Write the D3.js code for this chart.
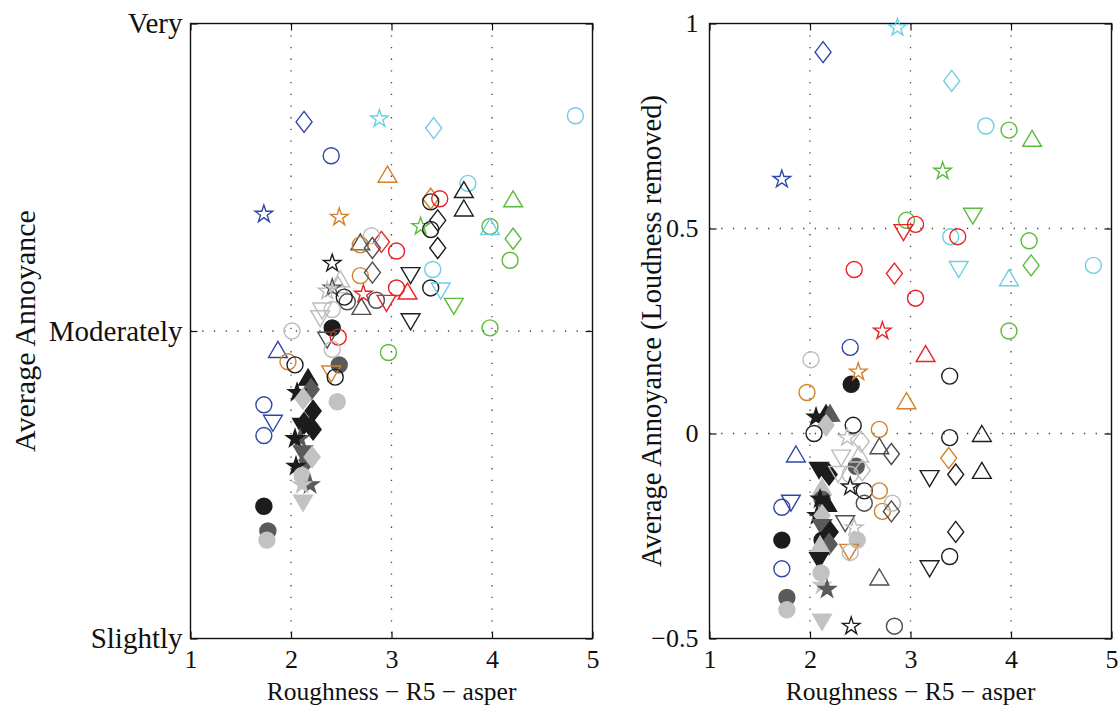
<!DOCTYPE html>
<html><head><meta charset="utf-8">
<script src="https://cdn.jsdelivr.net/npm/d3@7"></script>
<style>
html,body{margin:0;padding:0;background:#fff;}
svg{display:block;}
text{font-family:"Liberation Serif","Times New Roman",serif;fill:#111;}
</style></head>
<body>
<script>
// ---------- data ----------
const xTicks = [1, 2, 3, 4, 5];
const leftYTicks = [1, 2, 3];
const leftYTickLabels = ["Slightly", "Moderately", "Very"];
const rightYTicks = [-0.5, 0, 0.5, 1];
const xLabel = "Roughness \u2212 R5 \u2212 asper";
const leftYLabel = "Average Annoyance";
const rightYLabel = "Average Annoyance (Loudness removed)";

// [roughness, annoyance, series, marker]
const leftPoints = [
  [2.13,2.68,'blue','d'],[2.88,2.69,'cyan','p'],[2.40,2.57,'blue','o'],[2.96,2.51,'orange','^'],
  [1.73,2.38,'blue','p'],[2.48,2.37,'orange','p'],[2.69,2.29,'dgray','^'],[2.90,2.29,'red','d'],
  [2.80,2.31,'lgray','o'],[2.69,2.28,'orange','o'],[2.81,2.27,'dgray','d'],[3.05,2.26,'red','o'],
  [2.41,2.22,'black','p'],[2.69,2.18,'orange','o'],[2.81,2.19,'dgray','d'],[2.49,2.17,'lgray','^'],
  [2.47,2.15,'lgray','^'],[2.41,2.14,'dgray','p'],[2.36,2.13,'lgray','p'],[2.56,2.095,'dgray','o'],
  [2.53,2.11,'black','o'],[2.72,2.12,'red','p'],[2.70,2.08,'dgray','^'],[2.85,2.10,'dgray','o'],
  [2.95,2.09,'red','v'],[3.05,2.14,'red','o'],[2.41,2.07,'lgray','o'],[2.29,2.04,'lgray','v'],
  [2.31,2.065,'lgray','v'],[2.41,2.01,'fblack','o'],[2.01,2.00,'lgray','o'],
  [3.42,2.66,'cyan','d'],[4.83,2.70,'cyan','o'],[3.76,2.48,'cyan','o'],[3.72,2.46,'black','^'],
  [3.72,2.40,'black','^'],[3.39,2.43,'orange','d'],[3.39,2.42,'black','o'],[3.48,2.43,'red','o'],
  [3.46,2.36,'black','d'],[3.29,2.34,'green','p'],[3.39,2.33,'black','o'],[3.46,2.27,'black','d'],
  [4.21,2.43,'green','^'],[3.98,2.34,'green','o'],[3.98,2.34,'cyan','^'],[4.21,2.30,'green','d'],
  [4.18,2.23,'green','o'],[3.41,2.20,'cyan','o'],[3.19,2.18,'black','v'],[3.39,2.14,'black','o'],
  [3.49,2.13,'cyan','v'],[3.16,2.13,'red','^'],[3.62,2.08,'green','v'],[3.19,2.03,'black','v'],
  [3.98,2.01,'green','o'],[2.47,1.98,'red','o'],[2.36,1.97,'dgray','v'],[2.41,1.94,'lgray','o'],
  [2.97,1.93,'green','o'],[1.87,1.94,'blue','^'],[1.97,1.90,'orange','o'],[2.04,1.89,'black','o'],
  [2.48,1.89,'fdgray','o'],[2.40,1.86,'orange','v'],[2.44,1.85,'black','o'],
  [2.17,1.85,'fblack','^'],[2.20,1.81,'fdgray','d'],[2.06,1.80,'fblack','p'],[2.12,1.78,'flgray','d'],
  [2.46,1.77,'flgray','o'],[1.73,1.76,'blue','o'],[1.82,1.70,'blue','v'],[1.73,1.66,'blue','o'],
  [2.22,1.74,'fblack','d'],[2.13,1.70,'fblack','d'],[2.11,1.69,'fblack','v'],[2.22,1.68,'fblack','d'],
  [2.09,1.65,'fdgray','p'],[2.04,1.65,'fblack','p'],[2.12,1.60,'fdgray','v'],[2.16,1.58,'fdgray','d'],
  [2.21,1.59,'flgray','d'],[2.05,1.56,'fblack','p'],[2.11,1.53,'flgray','o'],[2.19,1.50,'fdgray','p'],
  [2.11,1.50,'flgray','p'],[2.12,1.44,'flgray','v'],[1.73,1.43,'fblack','o'],[1.77,1.35,'fdgray','o'],
  [1.76,1.32,'flgray','o']
];

const rightPoints = [
  [2.87,0.99,'cyan','p'],[2.13,0.93,'blue','d'],[1.72,0.62,'blue','p'],[3.41,0.86,'cyan','d'],
  [3.75,0.75,'cyan','o'],[3.98,0.74,'green','o'],[4.21,0.72,'green','^'],[3.32,0.64,'green','p'],
  [3.62,0.53,'green','v'],[2.96,0.52,'green','o'],[3.05,0.51,'red','o'],[2.93,0.49,'red','v'],
  [3.40,0.48,'cyan','o'],[3.47,0.48,'red','o'],[4.18,0.47,'green','o'],[4.20,0.41,'green','d'],
  [4.82,0.41,'cyan','o'],[3.48,0.40,'cyan','v'],[3.98,0.38,'cyan','^'],[3.98,0.25,'green','o'],
  [2.44,0.40,'red','o'],[2.84,0.39,'red','d'],[3.05,0.33,'red','o'],[2.72,0.25,'red','p'],
  [2.40,0.21,'blue','o'],[3.15,0.195,'red','^'],[3.39,0.14,'black','o'],[2.96,0.08,'orange','^'],
  [3.39,-0.01,'black','o'],[3.71,0.00,'black','^'],[3.38,-0.06,'orange','d'],[3.45,-0.10,'black','d'],
  [3.71,-0.09,'black','^'],[3.19,-0.11,'black','v'],[3.45,-0.24,'black','d'],[3.39,-0.30,'black','o'],
  [3.19,-0.33,'black','v'],[2.84,-0.47,'dgray','o'],[2.69,-0.35,'dgray','^'],[2.01,0.18,'lgray','o'],
  [2.48,0.15,'orange','p'],[2.41,0.12,'fblack','o'],[1.97,0.10,'orange','o'],[2.16,0.05,'fblack','^'],
  [2.20,0.05,'fdgray','^'],[2.06,0.04,'fblack','p'],[2.16,0.02,'flgray','d'],[2.04,0.00,'black','o'],
  [2.43,0.02,'black','o'],[2.69,0.01,'orange','o'],[2.37,-0.01,'lgray','p'],[2.51,-0.02,'lgray','d'],
  [2.69,-0.03,'dgray','^'],[2.81,-0.05,'dgray','d'],[2.31,-0.06,'lgray','v'],[2.49,-0.05,'lgray','^'],
  [1.86,-0.05,'blue','^'],[2.46,-0.08,'fdgray','o'],[2.09,-0.09,'fblack','v'],[2.19,-0.10,'fblack','d'],
  [2.28,-0.10,'lgray','v'],[2.40,-0.10,'lgray','o'],[2.52,-0.09,'lgray','d'],[2.12,-0.13,'flgray','^'],
  [2.40,-0.13,'black','p'],[2.54,-0.14,'black','o'],[2.54,-0.17,'dgray','o'],[2.69,-0.14,'orange','o'],
  [2.72,-0.19,'orange','o'],[2.82,-0.17,'lgray','o'],[2.81,-0.19,'dgray','d'],[1.72,-0.18,'blue','o'],
  [1.81,-0.17,'blue','v'],[2.12,-0.16,'fdgray','o'],[2.10,-0.16,'fblack','p'],[2.17,-0.17,'fblack','^'],
  [2.07,-0.20,'fblack','p'],[2.12,-0.20,'flgray','d'],[2.12,-0.23,'fdgray','v'],[2.20,-0.24,'fblack','d'],
  [2.12,-0.26,'fblack','o'],[2.35,-0.22,'dgray','v'],[2.44,-0.23,'lgray','p'],[2.47,-0.26,'flgray','o'],
  [2.39,-0.29,'orange','v'],[2.40,-0.29,'lgray','o'],[1.72,-0.26,'fblack','o'],[2.19,-0.27,'fdgray','d'],
  [2.10,-0.27,'flgray','^'],[2.09,-0.31,'fblack','v'],[1.72,-0.33,'blue','o'],[2.11,-0.34,'flgray','o'],
  [2.12,-0.37,'flgray','p'],[2.17,-0.38,'fdgray','p'],[1.77,-0.40,'fdgray','o'],[1.77,-0.43,'flgray','o'],
  [2.12,-0.46,'flgray','v'],[2.41,-0.47,'black','p']
];

// ---------- styles ----------
const seriesStyle = {
  blue:   {stroke:"#2f48a8", fill:"none"},
  cyan:   {stroke:"#6ccfe3", fill:"none"},
  green:  {stroke:"#5dbb3c", fill:"none"},
  red:    {stroke:"#ec2227", fill:"none"},
  orange: {stroke:"#d2822a", fill:"none"},
  black:  {stroke:"#1e1e1e", fill:"none"},
  dgray:  {stroke:"#4e4e4e", fill:"none"},
  lgray:  {stroke:"#bdbdbd", fill:"none"},
  fblack: {stroke:"#1c1c1c", fill:"#1c1c1c"},
  fdgray: {stroke:"#5a5a5a", fill:"#5a5a5a"},
  flgray: {stroke:"#c2c2c2", fill:"#c2c2c2"}
};
function starPath(R){
  const r = R*0.382, pts=[];
  for(let i=0;i<10;i++){
    const a = -Math.PI/2 + i*Math.PI/5, rr = i%2?r:R;
    pts.push([rr*Math.cos(a), rr*Math.sin(a)]);
  }
  return "M"+pts.map(p=>p[0].toFixed(2)+","+p[1].toFixed(2)).join("L")+"Z";
}
const markerPaths = {
  o: d3.symbol(d3.symbolCircle, Math.PI*64)(),
  d: "M0,-10.5L8,0L0,10.5L-8,0Z",
  "^": "M0,-8L9.4,8L-9.4,8Z",
  v: "M0,8L9.4,-8L-9.4,-8Z",
  p: starPath(9.2)
};

const W=1120, H=713;
const svg = d3.select("body").append("svg").attr("width",W).attr("height",H);

function panel(cfg){
  const {x0,x1,y0,y1,yDomain,yTicks,yFmt,hGrid,points,yLabel,yLabelX,yLabelFS,yPad,yTickFS} = cfg;
  const x = d3.scaleLinear().domain([1,5]).range([x0,x1]);
  const y = d3.scaleLinear().domain(yDomain).range([y1,y0]);
  const g = svg.append("g");
  // grid
  const grid = g.append("g").attr("stroke","#444").attr("stroke-width",1.3).attr("stroke-dasharray","1.3,10.4");
  grid.selectAll(".vg").data([2,3,4]).join("line")
    .attr("x1",d=>x(d)).attr("x2",d=>x(d)).attr("y1",y0).attr("y2",y1);
  grid.selectAll(".hg").data(hGrid).join("line")
    .attr("y1",d=>y(d)).attr("y2",d=>y(d)).attr("x1",x0).attr("x2",x1);
  // axes
  const ax = fs => (sel)=>{sel.select(".domain").remove(); sel.selectAll("line").attr("stroke","#111").attr("stroke-width",1.2);
    sel.selectAll("text").attr("font-size",fs).attr("font-family",'"Liberation Serif",serif').attr("fill","#111");};
  g.append("g").attr("transform",`translate(0,${y1})`)
    .call(d3.axisBottom(x).tickValues(xTicks).tickSizeInner(-7).tickSizeOuter(0).tickPadding(11).tickFormat(d3.format("d"))).call(ax(26));
  g.append("g").attr("transform",`translate(0,${y0})`)
    .call(d3.axisTop(x).tickValues(xTicks).tickSizeInner(-7).tickSizeOuter(0).tickFormat("")).call(ax(26));
  g.append("g").attr("transform",`translate(${x0},0)`)
    .call(d3.axisLeft(y).tickValues(yTicks).tickSizeInner(-7).tickSizeOuter(0).tickPadding(yPad).tickFormat(yFmt)).call(ax(yTickFS));
  g.append("g").attr("transform",`translate(${x1},0)`)
    .call(d3.axisRight(y).tickValues(yTicks).tickSizeInner(-7).tickSizeOuter(0).tickFormat("")).call(ax(26));
  g.append("rect").attr("x",x0).attr("y",y0).attr("width",x1-x0).attr("height",y1-y0)
    .attr("fill","none").attr("stroke","#111").attr("stroke-width",1.4);
  // markers: filled first, outlines on top
  const ordered = points.filter(p=>seriesStyle[p[2]].fill!=="none").concat(points.filter(p=>seriesStyle[p[2]].fill==="none"));
  g.append("g").selectAll("path").data(ordered).join("path")
    .attr("d",d=>markerPaths[d[3]])
    .attr("transform",d=>`translate(${x(d[0])},${y(d[1])})`)
    .attr("fill",d=>seriesStyle[d[2]].fill)
    .attr("stroke",d=>seriesStyle[d[2]].stroke)
    .attr("stroke-width",1.4);
  // labels
  g.append("text").attr("x",(x0+x1)/2).attr("y",700).attr("text-anchor","middle").attr("font-size",25.5).text(xLabel);
  g.append("text").attr("transform",`translate(${yLabelX},${(y0+y1)/2}) rotate(-90)`)
    .attr("text-anchor","middle").attr("font-size",yLabelFS).text(yLabel);
}

panel({x0:190.5,x1:592.5,y0:23.5,y1:638.5,yDomain:[1,3],yTicks:leftYTicks,
  yFmt:(d,i)=>leftYTickLabels[leftYTicks.indexOf(d)],hGrid:[2],points:leftPoints,
  yLabel:leftYLabel,yLabelX:35,yLabelFS:30,yPad:8,yTickFS:29});
panel({x0:709.5,x1:1111.5,y0:23.5,y1:638.5,yDomain:[-0.5,1],yTicks:rightYTicks,
  yFmt:d=>d<0?"\u2212"+Math.abs(d):String(d),hGrid:[0,0.5],points:rightPoints,
  yLabel:rightYLabel,yLabelX:661,yLabelFS:28.5,yPad:11,yTickFS:26});
</script>
</body></html>
